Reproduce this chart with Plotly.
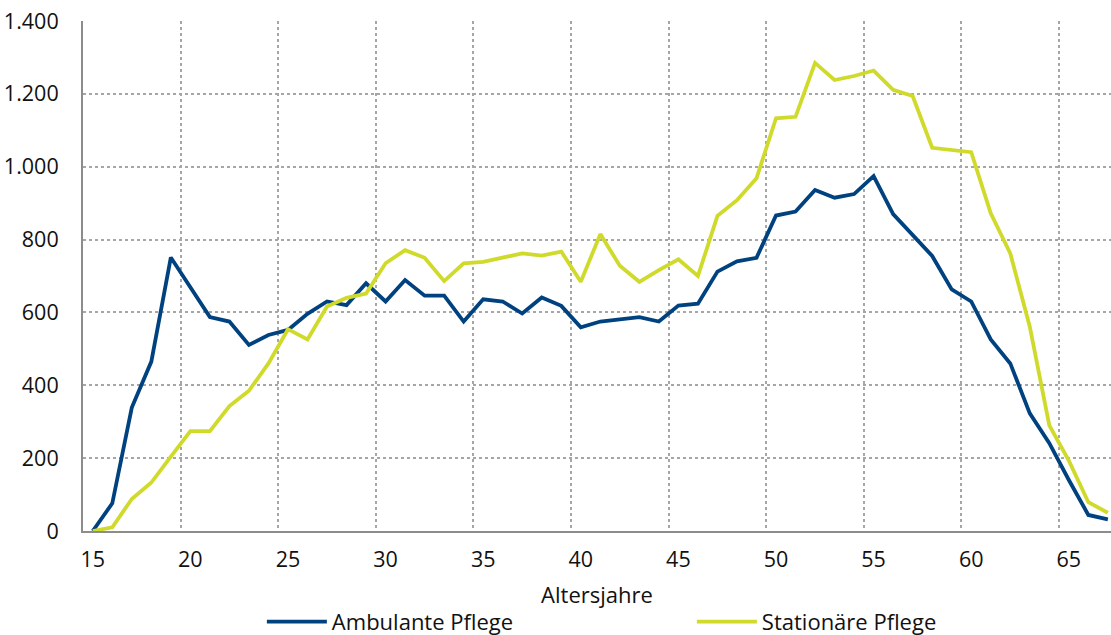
import plotly.graph_objects as go

ages = list(range(15, 68))
ambulant = [0, 76, 339, 465, 751, 670, 587, 575, 511, 538, 552, 596, 630, 620, 680,
            630, 689, 646, 646, 575, 636, 630, 597, 641, 618, 559, 575, 581, 587, 575,
            619, 624, 712, 740, 750, 866, 877, 936, 915, 925, 974, 870, 813, 755, 663,
            630, 526, 460, 323, 241, 140, 44, 32]
stationaer = [0, 10, 88, 133, 204, 274, 274, 343, 385, 460, 554, 526, 616, 640, 652,
              735, 771, 750, 686, 735, 739, 750, 762, 756, 767, 684, 815, 728, 684, 716,
              746, 700, 865, 908, 968, 1133, 1137, 1285, 1238, 1249, 1264, 1211, 1194, 1052, 1046,
              1040, 872, 762, 561, 290, 193, 79, 50]
x_ticks = [15, 20, 25, 30, 35, 40, 45, 50, 55, 60, 65]
x_grid = [19.5, 24.5, 29.5, 34.5, 39.5, 44.5, 49.5, 54.5, 59.5, 64.5]
y_ticks = [0, 200, 400, 600, 800, 1000, 1200, 1400]
y_labels = ["0", "200", "400", "600", "800", "1.000", "1.200", "1.400"]

FONT = "Open Sans"
xr = [14.5, 67.16]

fig = go.Figure()
fig.add_trace(go.Scatter(x=ages, y=ambulant, mode="lines", name="Ambulante Pflege",
                         line=dict(color="#00427f", width=3.8)))
fig.add_trace(go.Scatter(x=ages, y=stationaer, mode="lines", name="Stationäre Pflege",
                         line=dict(color="#d0da2a", width=3.8)))
fig.add_trace(go.Scatter(x=[ages[0]], y=[0], xaxis="x2", mode="markers",
                         marker=dict(opacity=0), showlegend=False, hoverinfo="skip"))

fig.update_layout(
    width=1111, height=635,
    margin=dict(l=83, r=0, t=21, b=104, autoexpand=False),
    paper_bgcolor="white", plot_bgcolor="white",
    font=dict(family=FONT, size=21.5, color="#111111"),
    xaxis=dict(range=xr, tickvals=x_ticks, showgrid=False, zeroline=False,
               showline=True, linecolor="#8c8c8c", linewidth=2, automargin=False,
               ticks="", ticklabelstandoff=8,
               title=dict(text="Altersjahre", standoff=16, font=dict(size=22))),
    xaxis2=dict(range=xr, overlaying="x", anchor="y", tickvals=x_grid, automargin=False,
                showgrid=True, gridcolor="#a6a6a6", griddash="dot", gridwidth=1.5,
                showticklabels=False, zeroline=False, showline=False, ticks=""),
    yaxis=dict(range=[0, 1400], tickvals=y_ticks, ticktext=y_labels, automargin=False,
               showgrid=True, gridcolor="#a6a6a6", griddash="dot", gridwidth=1.5,
               zeroline=False, showline=True, linecolor="#8c8c8c", linewidth=2,
               ticks="", ticklabelstandoff=18),
    legend=dict(orientation="h", x=0.174, xanchor="left", y=-0.178, yanchor="middle",
                entrywidth=355, itemwidth=60, font=dict(size=22)),
    showlegend=True,
)

fig.write_html("out.html", config={"displayModeBar": False},
               post_script="document.body.style.margin='0';document.body.style.overflow='hidden';")
